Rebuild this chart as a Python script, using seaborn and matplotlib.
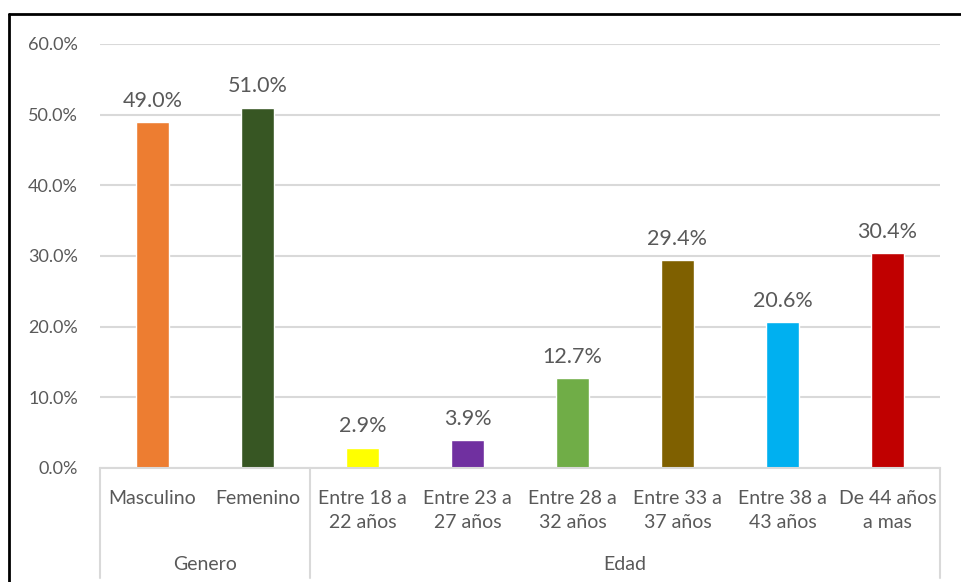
import matplotlib
matplotlib.use("Agg")
import matplotlib.pyplot as plt
import matplotlib.transforms as mtransforms
from matplotlib.lines import Line2D
import seaborn as sns
import pandas as pd

# Survey profile: gender and age groups (share of respondents)
categories = ["Masculino", "Femenino", "Entre 18 a\n22 años", "Entre 23 a\n27 años",
              "Entre 28 a\n32 años", "Entre 33 a\n37 años", "Entre 38 a\n43 años",
              "De 44 años\na mas"]
values = [0.49, 0.51, 0.029, 0.039, 0.127, 0.294, 0.206, 0.304]
colors = ["#ED7D31", "#375623", "#FFFF00", "#7030A0", "#70AD47", "#7F6000", "#00B0F0", "#C00000"]
groups = ["Genero", "Edad"]
group_sizes = [2, 6]
yticks = [0.0, 0.1, 0.2, 0.3, 0.4, 0.5, 0.6]

sns.set_theme(style="white")
plt.rcParams["font.family"] = ["Lato", "DejaVu Sans"]

text_color = "#595959"
grid_color = "#D9D9D9"

W, H = 961, 582
fig = plt.figure(figsize=(W / 100, H / 100), dpi=100)
ax = fig.add_axes([100 / W, (H - 468) / H, 840 / W, 424 / H])

df = pd.DataFrame({"cat": categories, "val": values})
sns.barplot(data=df, x="cat", y="val", hue="cat", palette=colors, order=categories,
            hue_order=categories, width=0.32, legend=False, ax=ax, saturation=1)

ax.set_xlim(-0.5, len(categories) - 0.5)
ax.set_ylim(0, 0.6)
ax.set_yticks(yticks)
ax.set_yticklabels([f"{t * 100:.1f}%" for t in yticks], fontsize=13, color=text_color)
ax.tick_params(axis="y", length=0, pad=16)
ax.yaxis.grid(True, color=grid_color, linewidth=1.5)
ax.set_axisbelow(True)
for s in ["top", "right", "left"]:
    ax.spines[s].set_visible(False)
ax.spines["bottom"].set_color(grid_color)
ax.spines["bottom"].set_linewidth(1.5)
ax.set_xlabel("")
ax.set_ylabel("")
ax.set_xticks(range(len(categories)))
ax.set_xticklabels(categories, fontsize=14, color=text_color, linespacing=1.5, va="top")
ax.tick_params(axis="x", length=0, pad=16)

# Value labels above bars
for i, v in enumerate(values):
    ax.annotate(f"{v * 100:.1f}%", (i, v), xytext=(0, 8), textcoords="offset points",
                ha="center", va="bottom", fontsize=15.5, color=text_color, clip_on=False)

# Group separators and group labels below the category labels
trans = mtransforms.blended_transform_factory(ax.transData, ax.transAxes)
bottom_frac = (468 - 578) / 424
label_frac = (468 - 565) / 424
start = -0.5
edges = [start]
for g, n in zip(groups, group_sizes):
    end = start + n
    ax.text((start + end) / 2, label_frac, g, transform=trans, ha="center", va="center",
            fontsize=14, color=text_color)
    edges.append(end)
    start = end
for e in edges:
    ax.add_line(Line2D([e, e], [0, bottom_frac], transform=trans, color=grid_color,
                       linewidth=1.5, clip_on=False))

# Outer frame
fig.add_artist(Line2D([9 / W, 1], [1 - 14 / H, 1 - 14 / H], transform=fig.transFigure,
                      color="black", linewidth=2))
fig.add_artist(Line2D([9 / W, 9 / W], [0, 1 - 14 / H], transform=fig.transFigure,
                      color="black", linewidth=2))

fig.savefig("out.png", dpi=100, facecolor="white")
